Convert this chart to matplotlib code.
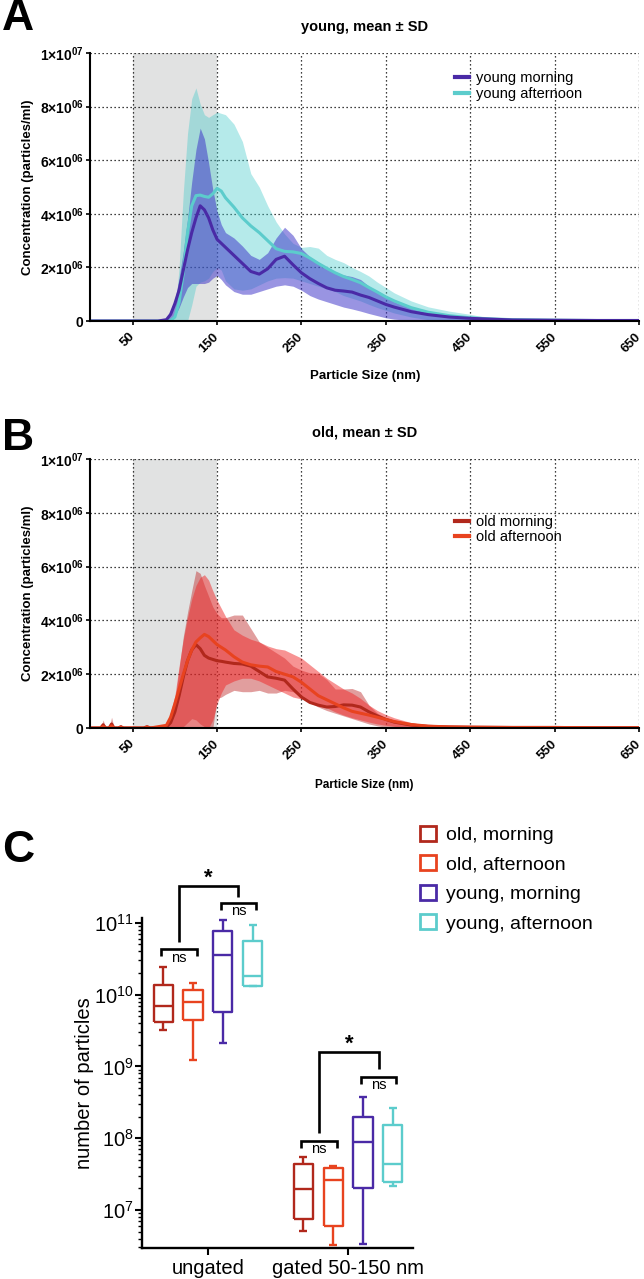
import numpy as np
import matplotlib
matplotlib.use('Agg')
import matplotlib.pyplot as plt
from matplotlib.patches import Patch
from matplotlib.lines import Line2D
from matplotlib.ticker import LogLocator, LogFormatterMathtext, NullFormatter

plt.rcParams['font.family'] = ['Liberation Sans', 'DejaVu Sans']
plt.rcParams['mathtext.fontset'] = 'custom'
plt.rcParams['mathtext.rm'] = 'Liberation Sans'
plt.rcParams['mathtext.bf'] = 'Liberation Sans:bold'
plt.rcParams['mathtext.it'] = 'Liberation Sans:italic'

# ---- panel A: young donors, concentration in 1e6 particles/ml ----
size_young_nm = [0, 80, 90, 95, 100, 105, 110, 115, 120, 125, 130, 135, 140, 145, 150,
                 155, 160, 170, 180, 190, 200, 210, 220, 230, 240, 250, 260, 270, 280, 290,
                 300, 310, 320, 330, 340, 350, 360, 380, 400, 425, 450, 475, 500, 550, 600, 650]
young_morning_mean = [0, 0, 0.05, 0.25, 0.65, 1.15, 1.9, 2.65, 3.3, 3.85, 4.3, 4.15, 3.85, 3.4, 3.05,
                      2.9, 2.75, 2.45, 2.15, 1.85, 1.75, 1.95, 2.3, 2.42, 2.1, 1.8, 1.58, 1.4, 1.24, 1.15,
                      1.12, 1.08, 0.97, 0.88, 0.75, 0.62, 0.52, 0.35, 0.24, 0.15, 0.10, 0.07, 0.04, 0.03, 0.02, 0.02]
young_morning_hi = [0, 0, 0.1, 0.4, 0.8, 1.6, 2.6, 3.8, 5.2, 6.4, 7.2, 6.8, 5.9, 4.9, 4.1,
                    3.6, 3.3, 3.1, 2.8, 2.45, 2.3, 2.55, 3.1, 3.5, 3.2, 2.7, 2.4, 2.15, 1.95, 1.8,
                    1.72, 1.66, 1.55, 1.3, 1.1, 0.9, 0.72, 0.48, 0.3, 0.18, 0.11, 0.08, 0.05, 0.04, 0.03, 0.03]
young_morning_lo = [0, 0, 0, 0.05, 0.2, 0.5, 0.9, 1.25, 1.4, 1.4, 1.4, 1.4, 1.45, 1.6, 1.7,
                    1.55, 1.35, 1.1, 1.0, 1.0, 1.1, 1.2, 1.3, 1.35, 1.3, 1.15, 0.95, 0.82, 0.72, 0.62,
                    0.52, 0.45, 0.37, 0.28, 0.2, 0.12, 0.07, 0.02, 0, 0, 0, 0, 0, 0, 0, 0]
young_afternoon_mean = [0, 0, 0, 0.02, 0.15, 0.7, 1.8, 3.3, 4.3, 4.68, 4.7, 4.65, 4.62, 4.75, 4.95,
                        4.85, 4.6, 4.25, 3.85, 3.55, 3.3, 3.0, 2.7, 2.6, 2.58, 2.52, 2.35, 2.15, 1.97, 1.8,
                        1.66, 1.55, 1.43, 1.25, 1.08, 0.9, 0.75, 0.5, 0.33, 0.2, 0.12, 0.08, 0.05, 0.03, 0.02, 0.02]
young_afternoon_hi = [0, 0, 0, 0, 0.2, 2.0, 4.8, 7.0, 8.3, 8.7, 8.1, 7.7, 7.6, 7.7, 7.8,
                      7.75, 7.7, 7.35, 6.7, 5.5, 5.0, 4.3, 3.7, 3.25, 2.9, 2.75, 2.78, 2.72, 2.45, 2.3,
                      2.18, 2.0, 1.85, 1.68, 1.45, 1.25, 1.05, 0.75, 0.53, 0.37, 0.25, 0.1, 0.05, 0.03, 0.03, 0.03]
young_afternoon_lo = [0, 0, 0, 0, 0, 0, 0, 0, 0.6, 1.3, 1.45, 1.5, 1.6, 1.85, 2.0,
                      1.9, 1.5, 1.2, 1.15, 1.2, 1.35, 1.5, 1.6, 1.62, 1.6, 1.5, 1.4, 1.3, 1.2, 1.1,
                      0.95, 0.85, 0.75, 0.62, 0.5, 0.4, 0.3, 0.15, 0.05, 0, 0, 0, 0, 0, 0, 0]

# ---- panel B: old donors ----
size_old_nm = [0, 12, 15, 18, 22, 25, 28, 33, 36, 39, 63, 67, 71, 90, 95,
               100, 105, 110, 115, 120, 125, 130, 135, 140, 145, 150, 155, 160, 170, 180,
               190, 200, 210, 220, 230, 240, 250, 260, 270, 280, 290, 300, 310, 320, 330,
               340, 350, 360, 380, 400, 425, 450, 500, 550, 600, 650]
old_morning_mean = [0, 0, 0.12, 0, 0, 0.15, 0, 0, 0.05, 0, 0, 0.05, 0, 0.03, 0.2,
                    0.6, 1.2, 1.9, 2.5, 2.9, 3.1, 2.95, 2.7, 2.6, 2.55, 2.5, 2.48, 2.45, 2.4, 2.38,
                    2.3, 2.1, 1.9, 1.85, 1.78, 1.45, 1.15, 0.95, 0.85, 0.78, 0.8, 0.86, 0.85, 0.78, 0.6,
                    0.45, 0.32, 0.22, 0.11, 0.06, 0.04, 0.03, 0.02, 0.02, 0.01, 0.01]
old_morning_hi = [0, 0, 0.3, 0, 0, 0.4, 0, 0, 0.12, 0, 0, 0.1, 0, 0.08, 0.4,
                  1.0, 2.2, 3.4, 4.3, 5.1, 5.85, 5.75, 5.3, 4.9, 4.5, 4.25, 4.1, 4.1, 4.2, 4.2,
                  3.7, 3.2, 3.0, 2.8, 2.6, 2.3, 2.15, 2.05, 2.03, 1.8, 1.45, 1.45, 1.47, 1.35, 0.85,
                  0.55, 0.38, 0.25, 0.12, 0.07, 0.05, 0.03, 0.02, 0.02, 0.02, 0.02]
old_morning_lo = [0, 0, 0, 0, 0, 0, 0, 0, 0, 0, 0, 0, 0, 0, 0,
                  0, 0, 0.05, 0.2, 0.35, 0.3, 0.15, 0.05, 0, 0, 1.1, 1.15, 1.25, 1.4, 1.35,
                  1.35, 1.4, 1.3, 1.3, 1.4, 1.35, 1.15, 0.95, 0.78, 0.65, 0.55, 0.45, 0.35, 0.25, 0.15,
                  0.08, 0.03, 0, 0, 0, 0, 0, 0, 0, 0, 0]
old_afternoon_mean = [0, 0, 0.06, 0, 0, 0.08, 0, 0, 0.03, 0, 0, 0.03, 0, 0.1, 0.4,
                      0.9, 1.45, 2.0, 2.5, 2.9, 3.2, 3.35, 3.48, 3.4, 3.25, 3.1, 3.0, 2.9, 2.65, 2.45,
                      2.35, 2.3, 2.27, 2.1, 2.0, 1.9, 1.7, 1.45, 1.2, 1.05, 0.9, 0.75, 0.62, 0.55, 0.48,
                      0.4, 0.32, 0.24, 0.13, 0.07, 0.04, 0.03, 0.02, 0.02, 0.01, 0.01]
old_afternoon_hi = [0, 0, 0.12, 0, 0, 0.18, 0, 0, 0.06, 0, 0, 0.06, 0, 0.15, 0.6,
                    1.2, 2.3, 3.3, 4.1, 4.8, 5.3, 5.6, 5.7, 5.5, 5.1, 4.75, 4.45, 4.15, 3.65, 3.45,
                    3.3, 3.2, 3.05, 2.95, 2.9, 2.75, 2.6, 2.35, 2.1, 1.85, 1.65, 1.45, 1.3, 1.1, 0.85,
                    0.65, 0.5, 0.38, 0.2, 0.1, 0.06, 0.04, 0.03, 0.02, 0.02, 0.02]
old_afternoon_lo = [0, 0, 0, 0, 0, 0, 0, 0, 0, 0, 0, 0, 0, 0, 0,
                    0, 0, 0, 0, 0, 0, 0, 0, 0, 0.3, 0.9, 1.3, 1.6, 1.75, 1.85,
                    1.85, 1.75, 1.6, 1.45, 1.3, 1.15, 1.08, 1.0, 0.9, 0.75, 0.6, 0.48, 0.38, 0.3, 0.22,
                    0.15, 0.1, 0.06, 0.02, 0, 0, 0, 0, 0, 0, 0]

gate_range = [50, 150]
size_ticks = [50, 150, 250, 350, 450, 550, 650]
conc_ticks = [0, 2e6, 4e6, 6e6, 8e6, 1e7]
conc_tick_labels = ['0', r'$\mathbf{2{\times}10^{06}}$', r'$\mathbf{4{\times}10^{06}}$',
                    r'$\mathbf{6{\times}10^{06}}$', r'$\mathbf{8{\times}10^{06}}$',
                    r'$\mathbf{1{\times}10^{07}}$']

# ---- panel C: box plots (whisker low, q1, median, q3, whisker high) ----
box_groups = ['ungated', 'gated 50-150 nm']
box_series = ['old, morning', 'old, afternoon', 'young, morning', 'young, afternoon']
old_morning_box = [[3.2e9, 4.2e9, 6.9e9, 1.37e10, 2.46e10], [5.1e6, 7.4e6, 1.96e7, 4.4e7, 5.5e7]]
old_afternoon_box = [[1.22e9, 4.4e9, 7.85e9, 1.16e10, 1.46e10], [3.3e6, 6.0e6, 2.64e7, 3.8e7, 4.1e7]]
young_morning_box = [[2.1e9, 5.8e9, 3.55e10, 7.6e10, 1.08e11], [3.4e6, 2.03e7, 8.9e7, 1.98e8, 3.8e8]]
young_afternoon_box = [[1.3e10, 1.32e10, 1.82e10, 5.56e10, 9.4e10], [2.18e7, 2.43e7, 4.3e7, 1.53e8, 2.67e8]]

# significance brackets per group: bar height and leg ends
ns_old_y = [4.3e10, 9.2e7]
ns_young_y = [1.92e11, 7.1e8]
star_y = [3.28e11, 1.6e9]
star_left_end = [5.4e10, 1.18e8]
star_right_end = [2.3e11, 9.2e8]

c_ym, c_ya = '#4a2aa6', '#5ccccc'
c_om, c_oa = '#b1281c', '#e8431f'

fig = plt.figure(figsize=(6.44, 12.79), dpi=100)


def style_dist(ax):
    ax.set_xlim(0, 650)
    ax.set_ylim(0, 1e7)
    ax.axvspan(gate_range[0], gate_range[1], color='#e1e2e2', lw=0, zorder=0)
    ax.set_xticks(size_ticks)
    ax.set_xticklabels([str(t) for t in size_ticks], rotation=45, ha='right', va='center',
                       rotation_mode='anchor', fontweight='bold', fontsize=9.5)
    ax.set_yticks(conc_ticks)
    ax.set_yticklabels(conc_tick_labels, fontweight='bold', fontsize=10)
    ax.set_axisbelow(True)
    ax.grid(True, color='black', linestyle=(0, (1, 2.2)), linewidth=0.9)
    for s in ['top', 'right']:
        ax.spines[s].set_visible(False)
    for s in ['left', 'bottom']:
        ax.spines[s].set_linewidth(1.5)
    ax.tick_params(axis='both', length=3, width=1.2, pad=2)
    ax.tick_params(axis='x', pad=7)
    ax.set_ylabel('Concentration (particles/ml)', fontweight='bold', fontsize=9.5, labelpad=4)


# panel A
axa = fig.add_axes([0.1405, 0.749, 0.8517, 0.2095])
style_dist(axa)
xs = np.array(size_young_nm)
axa.fill_between(xs, np.array(young_afternoon_lo) * 1e6, np.array(young_afternoon_hi) * 1e6,
                 color='#46cbcb', alpha=0.4, lw=0)
axa.plot(xs, np.array(young_afternoon_mean) * 1e6, color=c_ya, lw=2.2)
axa.fill_between(xs, np.array(young_morning_lo) * 1e6, np.array(young_morning_hi) * 1e6,
                 color='#3c32c8', alpha=0.52, lw=0)
axa.plot(xs, np.array(young_morning_mean) * 1e6, color=c_ym, lw=2.2)
axa.set_title('young, mean ± SD', fontweight='bold', fontsize=10.5, pad=16)
axa.set_xlabel('Particle Size (nm)', fontweight='bold', fontsize=9.5, labelpad=11)
axa.legend(handles=[Line2D([], [], color=c_ym, lw=3), Line2D([], [], color=c_ya, lw=3)],
           labels=['young morning', 'young afternoon'], loc='upper left',
           bbox_to_anchor=(0.652, 0.96), frameon=False, fontsize=10.5,
           handlelength=0.9, handletextpad=0.5, labelspacing=0.12, borderpad=0)

# panel B
axb = fig.add_axes([0.1405, 0.4308, 0.8517, 0.2103])
style_dist(axb)
xo = np.array(size_old_nm)
axb.fill_between(xo, np.array(old_morning_lo) * 1e6, np.array(old_morning_hi) * 1e6,
                 color='#be2828', alpha=0.45, lw=0)
axb.plot(xo, np.array(old_morning_mean) * 1e6, color=c_om, lw=2.2)
axb.fill_between(xo, np.array(old_afternoon_lo) * 1e6, np.array(old_afternoon_hi) * 1e6,
                 color='#f02828', alpha=0.5, lw=0)
axb.plot(xo, np.array(old_afternoon_mean) * 1e6, color=c_oa, lw=2.2)
axb.set_title('old, mean ± SD', fontweight='bold', fontsize=10.5, pad=16)
axb.set_xlabel('Particle Size (nm)', fontweight='bold', fontsize=8.5, labelpad=12)
axb.legend(handles=[Line2D([], [], color=c_om, lw=3), Line2D([], [], color=c_oa, lw=3)],
           labels=['old morning', 'old afternoon'], loc='upper left',
           bbox_to_anchor=(0.652, 0.82), frameon=False, fontsize=10.5,
           handlelength=0.9, handletextpad=0.5, labelspacing=0.12, borderpad=0)

# panel C
axc = fig.add_axes([0.2205, 0.02424, 0.42081, 0.25801])
axc.set_yscale('log')
box_data = [old_morning_box, old_afternoon_box, young_morning_box, young_afternoon_box]
box_colors = [c_om, c_oa, c_ym, c_ya]
offsets = [-0.32, -0.107, 0.107, 0.32]
for i, (vals, col) in enumerate(zip(box_data, box_colors)):
    stats = [dict(whislo=v[0], q1=v[1], med=v[2], q3=v[3], whishi=v[4], fliers=[]) for v in vals]
    pos = [g + offsets[i] for g in range(len(box_groups))]
    lp = dict(color=col, lw=1.7, solid_capstyle='butt')
    axc.bxp(stats, positions=pos, widths=0.136, capwidths=0.055, showfliers=False,
            boxprops=lp, whiskerprops=lp, capprops=lp, medianprops=lp, manage_ticks=False)

axc.set_xlim(-0.471, 1.464)
axc.set_ylim(2.95e6, 1.17e11)
axc.set_xticks(range(len(box_groups)))
axc.set_xticklabels(box_groups, fontsize=14.5)
axc.yaxis.set_major_locator(LogLocator(base=10, numticks=10))
axc.yaxis.set_major_formatter(LogFormatterMathtext())
axc.yaxis.set_minor_locator(LogLocator(base=10, subs=np.arange(2, 10), numticks=20))
axc.yaxis.set_minor_formatter(NullFormatter())
axc.tick_params(axis='y', which='major', labelsize=14.5, length=5, width=1.5, pad=1)
axc.tick_params(axis='y', which='minor', length=3, width=1)
axc.tick_params(axis='x', length=5, width=1.5, pad=3)
for s in ['top', 'right']:
    axc.spines[s].set_visible(False)
for s in ['left', 'bottom']:
    axc.spines[s].set_linewidth(1.7)
axc.set_ylabel('number of particles', fontsize=14.5, labelpad=0)


def bracket(x1, x2, y, y1, y2):
    axc.plot([x1, x1, x2, x2], [y1, y, y, y2], color='black', lw=1.9, clip_on=False,
             solid_joinstyle='miter', solid_capstyle='butt')


leg_drop = 1.25
for g in range(len(box_groups)):
    ol, orr = g - 0.333, g - 0.08
    yl, yr = g + 0.093, g + 0.343
    bracket(ol, orr, ns_old_y[g], ns_old_y[g] / leg_drop, ns_old_y[g] / leg_drop)
    axc.annotate('ns', ((ol + orr) / 2, ns_old_y[g]), xytext=(0, -1), textcoords='offset points',
                 ha='center', va='top', fontsize=10.5, annotation_clip=False)
    bracket(yl, yr, ns_young_y[g], ns_young_y[g] / leg_drop, ns_young_y[g] / leg_drop)
    axc.annotate('ns', ((yl + yr) / 2, ns_young_y[g]), xytext=(0, -1), textcoords='offset points',
                 ha='center', va='top', fontsize=10.5, annotation_clip=False)
    bracket((ol + orr) / 2, (yl + yr) / 2, star_y[g], star_left_end[g], star_right_end[g])
    axc.annotate('*', (((ol + orr) / 2 + (yl + yr) / 2) / 2, star_y[g]), xytext=(0, -2),
                 textcoords='offset points', ha='center', va='bottom', fontsize=16,
                 fontweight='bold', annotation_clip=False)

fig.legend(handles=[Patch(facecolor='white', edgecolor=c, lw=2) for c in box_colors],
           labels=box_series, loc='upper left', bbox_to_anchor=(420 / 644, 1 - 826 / 1279),
           frameon=False, fontsize=14, handlelength=0.8, handleheight=0.8,
           handletextpad=0.55, labelspacing=0.58, borderpad=0, borderaxespad=0)

# panel letters
fig.text(0.003, 1 - 19 / 1279, 'A', fontsize=32, fontweight='bold', va='center')
fig.text(0.003, 1 - 439 / 1279, 'B', fontsize=32, fontweight='bold', va='center')
fig.text(0.003, 1 - 851 / 1279, 'C', fontsize=32, fontweight='bold', va='center')

fig.savefig('out.png', dpi=100)
